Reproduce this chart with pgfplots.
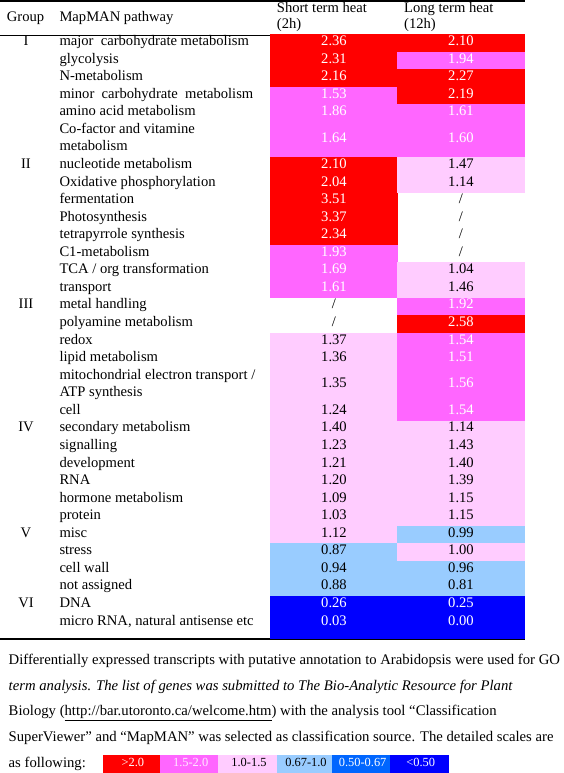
\documentclass[border=0pt]{standalone}
\usepackage{pgfplots}
\pgfplotsset{compat=1.18}
\usepackage{pgfplotstable}
\usepackage{fontspec}
\setmainfont{Liberation Serif}
\definecolor{cRed}{RGB}{255,0,0}
\definecolor{cMag}{RGB}{255,102,255}
\definecolor{cPink}{RGB}{255,204,255}
\definecolor{cLBlue}{RGB}{153,204,255}
\definecolor{cMBlue}{RGB}{0,102,255}
\definecolor{cBlue}{RGB}{0,0,255}
\newcommand\tabfont{\fontsize{14.6}{17}\selectfont}
\newcommand\capfont{\fontsize{14.7}{17}\selectfont}
\newcommand\legfont{\fontsize{12.4}{14}\selectfont}
\newdimen\celldim
\newcommand\setcell[1]{%
 \pgfmathsetlength\celldim{#1 pt}%
 \ifdim\celldim<0pt \def\cellC{white}\def\cellT{black}\def\cellL{/}\else
 \ifdim\celldim<0.5pt \def\cellC{cBlue}\def\cellT{white}\def\cellL{<0.50}\else
 \ifdim\celldim<0.67pt \def\cellC{cMBlue}\def\cellT{white}\def\cellL{0.50-0.67}\else
 \ifdim\celldim<1.0pt \def\cellC{cLBlue}\def\cellT{black}\def\cellL{0.67-1.0}\else
 \ifdim\celldim<1.5pt \def\cellC{cPink}\def\cellT{black}\def\cellL{1.0-1.5}\else
 \ifdim\celldim<2.0pt \def\cellC{cMag}\def\cellT{white}\def\cellL{1.5-2.0}\else
 \def\cellC{cRed}\def\cellT{white}\def\cellL{>2.0}\fi\fi\fi\fi\fi\fi}
\pgfplotstableread{
y up dn s l
43.28 8.78 8.78 2.36 2.10
60.84 8.78 8.78 2.31 1.94
78.40 8.78 8.78 2.16 2.27
95.96 8.78 8.78 1.53 2.19
113.52 8.78 8.78 1.86 1.61
139.86 17.56 17.56 1.64 1.60
166.20 8.78 8.78 2.10 1.47
183.76 8.78 8.78 2.04 1.14
201.32 8.78 8.78 3.51 -1
218.88 8.78 8.78 3.37 -1
236.44 8.78 8.78 2.34 -1
254.00 8.78 8.78 1.93 -1
271.56 8.78 8.78 1.69 1.04
289.12 8.78 8.78 1.61 1.46
306.68 8.78 8.78 -1 1.92
324.24 8.78 8.78 -1 2.58
341.80 8.78 8.78 1.37 1.54
359.36 8.78 8.78 1.36 1.51
385.70 17.56 17.56 1.35 1.56
412.04 8.78 8.78 1.24 1.54
429.60 8.78 8.78 1.40 1.14
447.16 8.78 8.78 1.23 1.43
464.72 8.78 8.78 1.21 1.40
482.28 8.78 8.78 1.20 1.39
499.84 8.78 8.78 1.09 1.15
517.40 8.78 8.78 1.03 1.15
534.96 8.78 8.78 1.12 0.99
552.52 8.78 8.78 0.87 1.00
570.08 8.78 8.78 0.94 0.96
587.64 8.78 8.78 0.88 0.81
605.20 8.78 8.78 0.26 0.25
622.76 8.78 16.24 0.03 0.00
}\datatable
\pgfplotstableread{
x hw v
131.35 28.65 2.5
189.15 29.15 1.75
247.50 29.20 1.25
304.50 27.80 0.8
361.15 28.85 0.6
419.15 29.15 0.3
}\legendtable
\pgfplotsset{
 cellplot/.style={only marks, scatter, point meta=y, mark=*, mark size=0pt,
   mark options={draw=white, fill=white},
   scatter/@pre marker code/.code={},
   scatter/@post marker code/.code={%
     \setcell{\cellV}%
     \ifdim\celldim<0pt
       \node[text=black, font=\tabfont, inner sep=0pt, anchor=mid, draw=none] at (0,0) {/};
     \else
       \fill[fill=\cellC, draw=none] (-63.8pt,\cellU pt+0.3pt) rectangle (63.8pt,-\cellD pt-0.3pt);
       \node[text=\cellT, font=\tabfont, inner sep=0pt, anchor=mid, draw=none, fill=none] at (0,0)
         {\pgfmathprintnumber[fixed, fixed zerofill, precision=2, assume math mode=true]{\cellV}};
     \fi
   }},
 legplot/.style={only marks, scatter, point meta=y, mark=*, mark size=0pt,
   mark options={draw=white, fill=white},
   scatter/@pre marker code/.code={},
   scatter/@post marker code/.code={%
     \setcell{\cellV}%
     \fill[fill=\cellC, draw=none] (-\legW pt-0.2pt,9pt) rectangle (\legW pt+0.2pt,-9pt);
     \ifdim\celldim<2.0pt\ifdim\celldim<1.5pt\else\def\cellT{cPink!40!white}\fi\fi
     \node[text=\cellT, font=\legfont, inner sep=0pt, anchor=mid, draw=none, fill=none] at (1.5pt,0) {\cellL};
   }}
}
\begin{document}
\begin{tikzpicture}
\begin{axis}[width=563pt, height=773pt, scale only axis, xmin=0, xmax=563, ymin=0, ymax=773,
  y dir=reverse, hide axis, clip=false]
\addplot[draw=none, forget plot] coordinates {(0,0) (563,773)};
\addplot[cellplot, visualization depends on={\thisrow{s} \as \cellV},
  visualization depends on={\thisrow{up} \as \cellU},
  visualization depends on={\thisrow{dn} \as \cellD}]
  table[x expr=334, y=y] {\datatable};
\addplot[cellplot, visualization depends on={\thisrow{l} \as \cellV},
  visualization depends on={\thisrow{up} \as \cellU},
  visualization depends on={\thisrow{dn} \as \cellD}]
  table[x expr=461, y=y] {\datatable};
\addplot[legplot, visualization depends on={\thisrow{v} \as \cellV},
  visualization depends on={\thisrow{hw} \as \legW}]
  table[x=x, y expr=764] {\legendtable};
% rules
\addplot[black, line width=1.6pt, forget plot] coordinates {(0,1) (525,1)};
\addplot[black, line width=0.9pt, forget plot] coordinates {(0,35) (525,35)};
\addplot[black, line width=1.4pt, forget plot] coordinates {(0,639) (525,639)};
% header
\node[anchor=mid west, font=\tabfont, inner sep=0pt] at (axis cs:6.7,19.2) {Group};
\node[anchor=mid west, font=\tabfont, inner sep=0pt] at (axis cs:59.3,19.2) {MapMAN pathway};
\node[anchor=mid west, font=\tabfont, inner sep=0pt] at (axis cs:276.7,10.6) {Short term heat};
\node[anchor=mid west, font=\tabfont, inner sep=0pt] at (axis cs:276.7,26.7) {(2h)};
\node[anchor=mid west, font=\tabfont, inner sep=0pt] at (axis cs:404,10.6) {Long term heat};
\node[anchor=mid west, font=\tabfont, inner sep=0pt] at (axis cs:404,26.7) {(12h)};
% groups
\node[anchor=mid, font=\tabfont, inner sep=0pt] at (axis cs:26,43.28) {I};
\node[anchor=mid, font=\tabfont, inner sep=0pt] at (axis cs:26,166.20) {II};
\node[anchor=mid, font=\tabfont, inner sep=0pt] at (axis cs:26,306.68) {III};
\node[anchor=mid, font=\tabfont, inner sep=0pt] at (axis cs:26,429.60) {IV};
\node[anchor=mid, font=\tabfont, inner sep=0pt] at (axis cs:26,534.96) {V};
\node[anchor=mid, font=\tabfont, inner sep=0pt] at (axis cs:26,605.20) {VI};
% pathways
\node[anchor=mid west, font=\tabfont, inner sep=0pt] at (axis cs:59.3,43.28) {major\ \ carbohydrate metabolism};
\node[anchor=mid west, font=\tabfont, inner sep=0pt] at (axis cs:59.3,60.84) {glycolysis};
\node[anchor=mid west, font=\tabfont, inner sep=0pt] at (axis cs:59.3,78.40) {N-metabolism};
\node[anchor=mid west, font=\tabfont, inner sep=0pt] at (axis cs:59.3,95.96) {minor\ \ carbohydrate\ \ metabolism};
\node[anchor=mid west, font=\tabfont, inner sep=0pt] at (axis cs:59.3,113.52) {amino acid metabolism};
\node[anchor=mid west, font=\tabfont, inner sep=0pt] at (axis cs:59.3,131.08) {Co-factor and vitamine};
\node[anchor=mid west, font=\tabfont, inner sep=0pt] at (axis cs:59.3,148.64) {metabolism};
\node[anchor=mid west, font=\tabfont, inner sep=0pt] at (axis cs:59.3,166.20) {nucleotide metabolism};
\node[anchor=mid west, font=\tabfont, inner sep=0pt] at (axis cs:59.3,183.76) {Oxidative phosphorylation};
\node[anchor=mid west, font=\tabfont, inner sep=0pt] at (axis cs:59.3,201.32) {fermentation};
\node[anchor=mid west, font=\tabfont, inner sep=0pt] at (axis cs:59.3,218.88) {Photosynthesis};
\node[anchor=mid west, font=\tabfont, inner sep=0pt] at (axis cs:59.3,236.44) {tetrapyrrole synthesis};
\node[anchor=mid west, font=\tabfont, inner sep=0pt] at (axis cs:59.3,254.00) {C1-metabolism};
\node[anchor=mid west, font=\tabfont, inner sep=0pt] at (axis cs:59.3,271.56) {TCA / org transformation};
\node[anchor=mid west, font=\tabfont, inner sep=0pt] at (axis cs:59.3,289.12) {transport};
\node[anchor=mid west, font=\tabfont, inner sep=0pt] at (axis cs:59.3,306.68) {metal handling};
\node[anchor=mid west, font=\tabfont, inner sep=0pt] at (axis cs:59.3,324.24) {polyamine metabolism};
\node[anchor=mid west, font=\tabfont, inner sep=0pt] at (axis cs:59.3,341.80) {redox};
\node[anchor=mid west, font=\tabfont, inner sep=0pt] at (axis cs:59.3,359.36) {lipid metabolism};
\node[anchor=mid west, font=\tabfont, inner sep=0pt] at (axis cs:59.3,376.92) {mitochondrial electron transport /};
\node[anchor=mid west, font=\tabfont, inner sep=0pt] at (axis cs:59.3,394.48) {ATP synthesis};
\node[anchor=mid west, font=\tabfont, inner sep=0pt] at (axis cs:59.3,412.04) {cell};
\node[anchor=mid west, font=\tabfont, inner sep=0pt] at (axis cs:59.3,429.60) {secondary metabolism};
\node[anchor=mid west, font=\tabfont, inner sep=0pt] at (axis cs:59.3,447.16) {signalling};
\node[anchor=mid west, font=\tabfont, inner sep=0pt] at (axis cs:59.3,464.72) {development};
\node[anchor=mid west, font=\tabfont, inner sep=0pt] at (axis cs:59.3,482.28) {RNA};
\node[anchor=mid west, font=\tabfont, inner sep=0pt] at (axis cs:59.3,499.84) {hormone metabolism};
\node[anchor=mid west, font=\tabfont, inner sep=0pt] at (axis cs:59.3,517.40) {protein};
\node[anchor=mid west, font=\tabfont, inner sep=0pt] at (axis cs:59.3,534.96) {misc};
\node[anchor=mid west, font=\tabfont, inner sep=0pt] at (axis cs:59.3,552.52) {stress};
\node[anchor=mid west, font=\tabfont, inner sep=0pt] at (axis cs:59.3,570.08) {cell wall};
\node[anchor=mid west, font=\tabfont, inner sep=0pt] at (axis cs:59.3,587.64) {not assigned};
\node[anchor=mid west, font=\tabfont, inner sep=0pt] at (axis cs:59.3,605.20) {DNA};
\node[anchor=mid west, font=\tabfont, inner sep=0pt] at (axis cs:59.3,622.76) {micro RNA, natural antisense etc};
% caption
\node[anchor=mid west, font=\capfont, inner sep=0pt] at (axis cs:8.5,662) {Differentially expressed transcripts with putative annotation to Arabidopsis were used for GO};
\node[anchor=mid west, font=\capfont\itshape, inner sep=0pt] at (axis cs:8.5,688) {term analysis. The list of genes was submitted to The Bio-Analytic Resource for Plant};
\node[anchor=mid west, font=\capfont, inner sep=0pt] at (axis cs:8.5,713.5) {Biology (\underline{http://bar.utoronto.ca/welcome.htm}) with the analysis tool “Classification};
\node[anchor=mid west, font=\capfont, inner sep=0pt] at (axis cs:8.5,739.5) {SuperViewer” and “MapMAN” was selected as classification source. The detailed scales are};
\node[anchor=mid west, font=\capfont, inner sep=0pt] at (axis cs:8.5,765) {as following:};
\end{axis}
\pgfresetboundingbox
\path (current axis.south west) rectangle (current axis.north east);
\end{tikzpicture}
\end{document}
